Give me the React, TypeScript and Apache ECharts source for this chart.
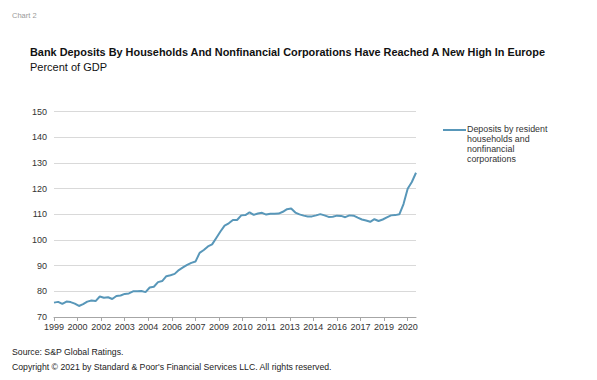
import React, { useEffect, useRef } from "react";
import * as echarts from "echarts";

// Quarterly observations, 1999Q1 .. 2020Q4 (percent of GDP)
const startYear = 1999;
const depositsPctGdp = [
  75.6, 75.9, 75.1, 76.0,
  75.8, 75.2, 74.3, 75.0,
  76.0, 76.4, 76.2, 78.0,
  77.5, 77.7, 77.0, 78.2,
  78.4, 79.0, 79.2, 80.0,
  80.0, 80.1, 79.7, 81.5,
  81.8, 83.6, 84.0, 85.9,
  86.3, 86.8, 88.3, 89.3,
  90.3, 91.1, 91.6, 95.0,
  96.1, 97.5, 98.3, 100.8,
  103.3, 105.6, 106.5, 107.8,
  107.8, 109.6, 109.7, 110.8,
  109.8, 110.3, 110.6, 109.9,
  110.2, 110.2, 110.3, 111.0,
  112.0, 112.3, 110.7, 110.0,
  109.5, 109.2, 109.2, 109.6,
  110.1, 109.6, 109.0, 109.1,
  109.5, 109.4, 108.9, 109.6,
  109.5, 108.7, 108.0, 107.6,
  107.1, 108.1, 107.4, 108.0,
  108.8, 109.6, 109.7, 110.0,
  114.0, 120.0, 122.6, 126.2,
];
const quarterLabels = depositsPctGdp.map(
  (_, i) => `${startYear + Math.floor(i / 4)}Q${(i % 4) + 1}`
);
// x-axis tick labels (one tick every 17 months, starting March 1999)
const tickLabels = [
  "1999", "2000", "2002", "2003", "2004", "2006", "2007", "2009",
  "2010", "2011", "2013", "2014", "2016", "2017", "2019", "2020",
];
const yTicks = [70, 80, 90, 100, 110, 120, 130, 140, 150];
const seriesName = "Deposits by resident households and nonfinancial corporations";
const legendLines = ["Deposits by resident", "households and", "nonfinancial", "corporations"];

const FONT = "'Liberation Sans', Arial, sans-serif";
const LINE_COLOR = "#5897b9";

export default function App() {
  const ref = useRef<HTMLDivElement>(null);
  useEffect(() => {
    if (!ref.current) return;
    const chart = echarts.init(ref.current, null, { renderer: "svg" });
    const points = depositsPctGdp.map((v, i) => [i * 3, v, quarterLabels[i]]);
    chart.setOption({
      animation: false,
      backgroundColor: "#ffffff",
      textStyle: { fontFamily: FONT },
      title: [
        {
          text: "Chart 2",
          left: 12,
          top: 11,
          padding: 0,
          textStyle: { fontSize: 7.5, fontWeight: "normal", color: "#999999", fontFamily: FONT },
        },
        {
          text: "Bank Deposits By Households And Nonfinancial Corporations Have Reached A New High In Europe",
          left: 30,
          top: 46,
          padding: 0,
          textStyle: { fontSize: 10.9, fontWeight: "bold", color: "#111", fontFamily: FONT },
        },
        {
          text: "Percent of GDP",
          left: 30,
          top: 61,
          padding: 0,
          textStyle: { fontSize: 11, fontWeight: "normal", color: "#111", fontFamily: FONT },
        },
        {
          text: "Source: S&P Global Ratings.",
          left: 12,
          top: 347,
          padding: 0,
          textStyle: { fontSize: 8.7, fontWeight: "normal", color: "#222", fontFamily: FONT },
        },
        {
          text: "Copyright © 2021 by Standard & Poor's Financial Services LLC. All rights reserved.",
          left: 12,
          top: 362,
          padding: 0,
          textStyle: { fontSize: 8.7, fontWeight: "normal", color: "#222", fontFamily: FONT },
        },
      ],
      grid: { left: 54, right: 181, top: 111.7, bottom: 63, containLabel: false },
      xAxis: {
        type: "value",
        min: 0,
        max: (depositsPctGdp.length - 1) * 3,
        interval: 17,
        axisLine: { show: true, lineStyle: { color: "#a6a6a6", width: 1 } },
        axisTick: { show: true, length: 4, lineStyle: { color: "#a6a6a6" } },
        splitLine: { show: false },
        axisLabel: {
          showMaxLabel: false,
          fontSize: 9,
          color: "#333",
          margin: 5,
          fontFamily: FONT,
          formatter: (v: number) => {
            const k = Math.round(v / 17);
            return Math.abs(v - k * 17) < 0.01 && tickLabels[k] ? tickLabels[k] : "";
          },
        },
      },
      yAxis: {
        type: "value",
        min: yTicks[0],
        max: yTicks[yTicks.length - 1],
        interval: 10,
        axisLine: { show: false },
        axisTick: { show: false },
        splitLine: { show: true, lineStyle: { color: "#d9d9d9", width: 1 } },
        axisLabel: { fontSize: 9, color: "#333", margin: 7, fontFamily: FONT },
      },
      series: [
        {
          name: seriesName,
          type: "line",
          data: points,
          showSymbol: false,
          symbol: "none",
          lineStyle: { color: LINE_COLOR, width: 2 },
          itemStyle: { color: LINE_COLOR },
        },
      ],
      graphic: [
        {
          type: "line",
          shape: { x1: 443, y1: 130, x2: 466, y2: 130 },
          style: { stroke: LINE_COLOR, lineWidth: 2 },
        },
        ...legendLines.map((t, i) => ({
          type: "text",
          left: 467,
          top: 124.5 + i * 10,
          style: { text: t, fontSize: 8.9, fill: "#333", fontFamily: FONT },
        })),
      ],
    });
    return () => chart.dispose();
  }, []);
  return (
    <div
      ref={ref}
      style={{ position: "fixed", left: 0, top: 0, width: 597, height: 380 }}
    />
  );
}
